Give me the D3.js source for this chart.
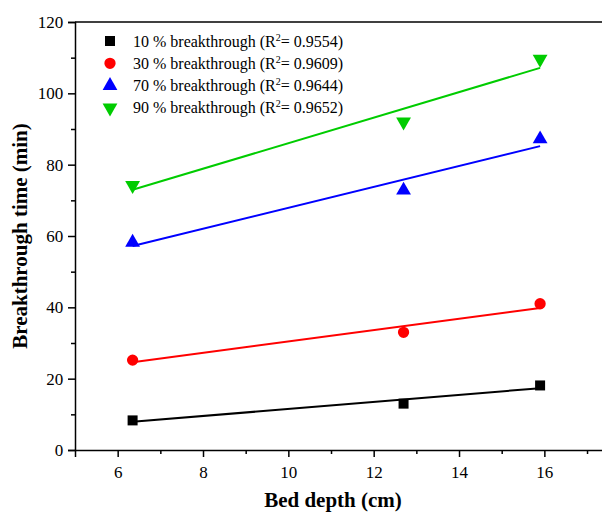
<!DOCTYPE html>
<html>
<head>
<meta charset="utf-8">
<script src="https://cdn.jsdelivr.net/npm/d3@7"></script>
<style>
  body { margin: 0; background: #fff; }
  svg text { font-family: "Liberation Serif", "DejaVu Serif", serif; fill: #000; }
</style>
</head>
<body>
<svg width="602" height="512"></svg>
<script>
(function() {
    // bed depth (cm)
    var depths = [6.35, 12.7, 15.9];

    var labels = ['10 % breakthrough', '30 % breakthrough', '70 % breakthrough', '90 % breakthrough'];
    var r2 = ['0.9554', '0.9609', '0.9644', '0.9652'];

    var t10 = [8.3, 13.0, 18.1];
    var t30 = [25.2, 33.0, 41.0];
    var t70 = [58.2, 72.8, 87.2];
    var t90 = [74.2, 92.0, 109.6];

    var colors = ['#000000', '#ff0000', '#0000ff', '#00cc00'];
    var shapes = [d3.symbolSquare, d3.symbolCircle, d3.symbolTriangle, d3.symbolTriangle];

    var series = [t10, t30, t70, t90].map(function(v, i) {
        return { name: labels[i], r2: r2[i], values: v, color: colors[i], shape: shapes[i], flip: i === 3 };
    });

    var svg = d3.select('svg');

    var x = d3.scaleLinear().domain([5, 18]).range([75, 629.7]);
    var y = d3.scaleLinear().domain([0, 120]).range([450, 22]);

    // frame: top line
    svg.append('line')
        .attr('x1', x(5)).attr('x2', 602)
        .attr('y1', y(120)).attr('y2', y(120))
        .attr('stroke', '#000').attr('stroke-width', 1.5);

    var xAxis = svg.append('g')
        .attr('transform', 'translate(0,' + y(0) + ')')
        .call(d3.axisBottom(x).tickValues([6, 8, 10, 12, 14, 16]).tickSize(7).tickFormat(d3.format('d')));
    svg.append('g')
        .attr('transform', 'translate(0,' + y(0) + ')')
        .call(d3.axisBottom(x).tickValues([7, 9, 11, 13, 15, 17]).tickSize(4).tickFormat(''))
        .select('.domain').remove();

    var yAxis = svg.append('g')
        .attr('transform', 'translate(' + x(5) + ',0)')
        .call(d3.axisLeft(y).tickValues([0, 20, 40, 60, 80, 100, 120]).tickSize(7));
    svg.append('g')
        .attr('transform', 'translate(' + x(5) + ',0)')
        .call(d3.axisLeft(y).tickValues([10, 30, 50, 70, 90, 110]).tickSize(4).tickFormat(''))
        .select('.domain').remove();

    svg.selectAll('.domain').attr('stroke-width', 1.5);
    svg.selectAll('.tick line').attr('stroke-width', 1.5);
    svg.selectAll('.tick text').attr('font-size', 17);
    xAxis.selectAll('.tick text').attr('dy', '1.05em');
    yAxis.selectAll('.tick text').attr('dx', '-0.1em');

    svg.append('text')
        .attr('x', 333).attr('y', 507)
        .attr('text-anchor', 'middle')
        .attr('font-weight', 'bold').attr('font-size', 21)
        .text('Bed depth (cm)');

    svg.append('text')
        .attr('transform', 'translate(27,' + 236 + ') rotate(-90)')
        .attr('text-anchor', 'middle')
        .attr('font-weight', 'bold').attr('font-size', 21)
        .text('Breakthrough time (min)');

    // least squares fit lines
    function fit(vals) {
        var mx = d3.mean(depths), my = d3.mean(vals);
        var sxy = d3.sum(depths, function(d, i) { return (d - mx) * (vals[i] - my); });
        var sxx = d3.sum(depths, function(d) { return (d - mx) * (d - mx); });
        var b = sxy / sxx, a = my - b * mx;
        return [depths[0], depths[depths.length - 1]].map(function(d) { return [d, a + b * d]; });
    }

    var line = d3.line().x(function(d) { return x(d[0]); }).y(function(d) { return y(d[1]); });

    series.forEach(function(s) {
        svg.append('path')
            .attr('d', line(fit(s.values)))
            .attr('fill', 'none')
            .attr('stroke', s.color)
            .attr('stroke-width', 2);
    });

    function sym(s) {
        var size = s.shape === d3.symbolTriangle ? 95 : 100;
        return d3.symbol().type(s.shape).size(size)();
    }

    series.forEach(function(s) {
        svg.selectAll(null)
            .data(s.values)
            .enter()
            .append('path')
            .attr('d', sym(s))
            .attr('fill', s.color)
            .attr('transform', function(d, i) {
                return 'translate(' + x(depths[i]) + ',' + y(d) + ')' + (s.flip ? ' rotate(180)' : '');
            });
    });

    // legend
    var legend = svg.append('g');
    series.forEach(function(s, i) {
        var ly = 41 + i * 22.3;
        legend.append('path')
            .attr('d', sym(s))
            .attr('fill', s.color)
            .attr('transform', 'translate(110,' + ly + ')' + (s.flip ? ' rotate(180)' : ''));
        var t = legend.append('text')
            .attr('x', 133).attr('y', ly + 5.5)
            .attr('font-size', 16);
        t.append('tspan').text(s.name + ' (R');
        t.append('tspan').attr('font-size', 10).attr('dy', -6).text('2');
        t.append('tspan').attr('dy', 6).text('= ' + s.r2 + ')');
    });
})();
</script>
</body>
</html>
